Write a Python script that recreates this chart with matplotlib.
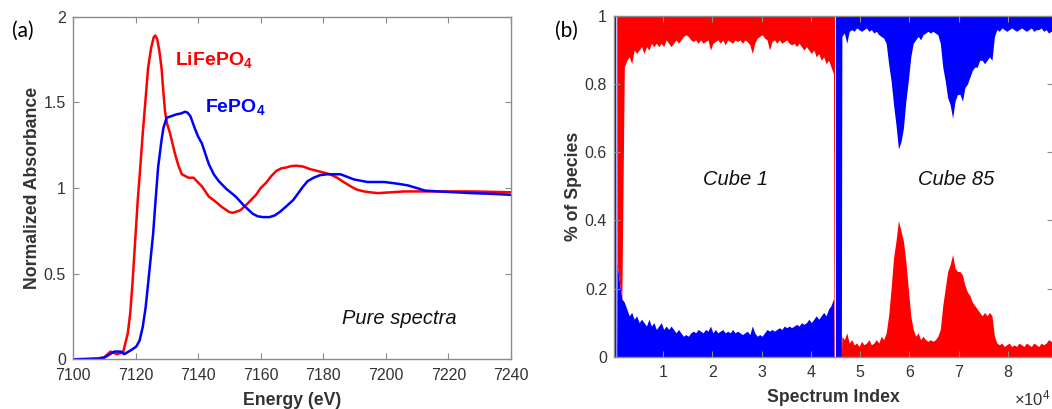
import numpy as np
import matplotlib
matplotlib.use('Agg')
import matplotlib.pyplot as plt

plt.rcParams['font.family'] = ['Liberation Sans', 'DejaVu Sans']
plt.rcParams['mathtext.fontset'] = 'custom'
plt.rcParams['mathtext.rm'] = 'Liberation Sans'
plt.rcParams['mathtext.it'] = 'Liberation Sans:italic'
plt.rcParams['mathtext.bf'] = 'Liberation Sans:bold'

# ---- panel (a): pure spectra ----
lifepo4_energy = [7100, 7105, 7108, 7110, 7112, 7114, 7116, 7117.5, 7118.3, 7119,
                  7120.7, 7121.5, 7122.3, 7123.2, 7124, 7125, 7125.8, 7126.3, 7126.9, 7127.6,
                  7128.3, 7128.8, 7129.4, 7130, 7131, 7132.6, 7133.7, 7134.8, 7136.9, 7138.5,
                  7141.2, 7143.4, 7145.6, 7147.5, 7149.9, 7150.9, 7152, 7153.5, 7155.3, 7156.9,
                  7158.5, 7160, 7161.7, 7163.4, 7165, 7166.6, 7168.2, 7169.8, 7171.5, 7173.6,
                  7175.8, 7178, 7180.1, 7182.2, 7184.4, 7186.5, 7188.7, 7190.8, 7193, 7195,
                  7197.4, 7206, 7216.8, 7227.6, 7240]
lifepo4_abs = [0.0, 0.002, 0.005, 0.012, 0.045, 0.03, 0.04, 0.15, 0.27, 0.44,
               0.93, 1.12, 1.32, 1.52, 1.70, 1.82, 1.88, 1.89, 1.87, 1.80,
               1.70, 1.58, 1.45, 1.38, 1.32, 1.20, 1.13, 1.08, 1.06, 1.06,
               1.01, 0.95, 0.92, 0.89, 0.86, 0.855, 0.86, 0.87, 0.90, 0.93,
               0.96, 1.00, 1.03, 1.07, 1.10, 1.115, 1.12, 1.128, 1.13, 1.125,
               1.11, 1.10, 1.09, 1.08, 1.06, 1.035, 1.01, 0.99, 0.98, 0.975,
               0.97, 0.98, 0.98, 0.98, 0.975]

fepo4_energy = [7100, 7105, 7108, 7110, 7113.2, 7115.3, 7116.4, 7118.6, 7120.2, 7121.3,
                7122.3, 7123.2, 7124, 7125.6, 7126.4, 7127.2, 7128.3, 7128.9, 7129.9, 7131.5,
                7133.1, 7134.5, 7135.8, 7136.6, 7137.5, 7138.3, 7139.1, 7140, 7141.2, 7142.3,
                7143.4, 7145, 7146.6, 7149, 7152, 7154.5, 7157.4, 7159, 7160.7, 7162.8,
                7164.5, 7166.1, 7168, 7170.4, 7172, 7173.6, 7175, 7176.9, 7179, 7181.2,
                7185.5, 7189.8, 7194.1, 7199.5, 7203.8, 7207.1, 7212.5, 7216.8, 7227.6, 7235.1,
                7240]
fepo4_abs = [0.0, 0.002, 0.004, 0.01, 0.045, 0.045, 0.03, 0.054, 0.074, 0.11,
             0.19, 0.30, 0.44, 0.73, 0.93, 1.12, 1.28, 1.35, 1.41, 1.42,
             1.43, 1.435, 1.445, 1.44, 1.42, 1.38, 1.34, 1.30, 1.26, 1.20,
             1.14, 1.08, 1.04, 0.995, 0.95, 0.90, 0.85, 0.835, 0.83, 0.83,
             0.84, 0.86, 0.89, 0.93, 0.97, 1.01, 1.04, 1.06, 1.075, 1.08,
             1.08, 1.05, 1.035, 1.035, 1.025, 1.015, 0.985, 0.98, 0.97, 0.965,
             0.96]

# ---- panel (b): species fractions per spectrum ----
# cube 1: blue filled from 0 up to fepo4, red filled from the lifepo4 edge up to 1
cube1_index = np.concatenate([[0, 350, 400, 550], np.arange(600, 44700, 500), [44700, 44800]])
cube1_fepo4 = [1.0, 1.0, 0.0, 0.0,
               0.28, 0.22, 0.17, 0.16, 0.14, 0.12, 0.13, 0.11, 0.12, 0.10,
               0.11, 0.10, 0.09, 0.11, 0.09, 0.10, 0.08, 0.09, 0.10, 0.08,
               0.09, 0.08, 0.09, 0.08, 0.07, 0.08, 0.07, 0.06, 0.065, 0.06,
               0.07, 0.075, 0.07, 0.08, 0.075, 0.07, 0.08, 0.075, 0.09, 0.07,
               0.08, 0.07, 0.075, 0.08, 0.07, 0.075, 0.07, 0.08, 0.07, 0.075,
               0.07, 0.065, 0.07, 0.075, 0.065, 0.09, 0.07, 0.06, 0.065, 0.06,
               0.07, 0.08, 0.075, 0.08, 0.075, 0.08, 0.085, 0.08, 0.09, 0.085,
               0.09, 0.085, 0.09, 0.095, 0.09, 0.10, 0.095, 0.10, 0.11, 0.10,
               0.11, 0.12, 0.11, 0.12, 0.13, 0.12, 0.14, 0.15, 0.17,
               0.0, 0.0]
cube1_lifepo4 = [1.0, 1.0, 1.0, 1.0,
                 0.28, 0.22, 0.17, 0.85, 0.87, 0.88, 0.86, 0.90, 0.89, 0.90,
                 0.91, 0.89, 0.91, 0.90, 0.92, 0.91, 0.92, 0.91, 0.92, 0.91,
                 0.93, 0.92, 0.91, 0.92, 0.93, 0.92, 0.93, 0.94, 0.945, 0.94,
                 0.93, 0.925, 0.93, 0.92, 0.93, 0.92, 0.925, 0.93, 0.90, 0.92,
                 0.925, 0.93, 0.92, 0.93, 0.915, 0.93, 0.925, 0.92, 0.93, 0.925,
                 0.93, 0.92, 0.93, 0.925, 0.915, 0.89, 0.92, 0.935, 0.94, 0.945,
                 0.935, 0.93, 0.90, 0.925, 0.93, 0.92, 0.93, 0.92, 0.925, 0.93,
                 0.92, 0.915, 0.92, 0.91, 0.92, 0.91, 0.90, 0.91, 0.90, 0.89,
                 0.90, 0.88, 0.89, 0.87, 0.88, 0.86, 0.87, 0.85, 0.83,
                 0.0, 0.0]

# cube 85: red filled from 0 up to lifepo4, blue filled from the fepo4 edge up to 1
cube85_index = np.concatenate([[45000, 46200], np.arange(46300, 89400, 500)])
cube85_lifepo4 = [0.0, 0.0,
                  0.06, 0.05, 0.07, 0.04, 0.05, 0.035, 0.04, 0.03, 0.045, 0.035,
                  0.04, 0.05, 0.035, 0.04, 0.05, 0.04, 0.06, 0.05, 0.07, 0.12,
                  0.20, 0.29, 0.34, 0.40, 0.37, 0.34, 0.28, 0.20, 0.12, 0.08,
                  0.06, 0.07, 0.05, 0.06, 0.05, 0.045, 0.05, 0.045, 0.05, 0.06,
                  0.08, 0.15, 0.20, 0.25, 0.27, 0.30, 0.26, 0.25, 0.25, 0.24,
                  0.21, 0.19, 0.18, 0.16, 0.15, 0.14, 0.13, 0.12, 0.13, 0.12,
                  0.13, 0.12, 0.06, 0.04, 0.035, 0.04, 0.03, 0.035, 0.04, 0.03,
                  0.035, 0.03, 0.04, 0.035, 0.03, 0.04, 0.035, 0.03, 0.04, 0.035,
                  0.03, 0.04, 0.035, 0.04, 0.05, 0.045, 0.05]
cube85_fepo4 = [0.0, 0.0,
                0.94, 0.95, 0.92, 0.955, 0.96, 0.955, 0.965, 0.96, 0.955, 0.96,
                0.965, 0.955, 0.96, 0.95, 0.955, 0.945, 0.94, 0.935, 0.92, 0.86,
                0.81, 0.74, 0.68, 0.61, 0.63, 0.67, 0.75, 0.81, 0.88, 0.92,
                0.93, 0.94, 0.93, 0.945, 0.95, 0.955, 0.95, 0.955, 0.95, 0.945,
                0.92, 0.85, 0.81, 0.76, 0.74, 0.70, 0.75, 0.77, 0.77, 0.75,
                0.79, 0.80, 0.82, 0.84, 0.85, 0.85, 0.87, 0.87, 0.86, 0.87,
                0.88, 0.87, 0.94, 0.96, 0.955, 0.965, 0.96, 0.955, 0.96, 0.965,
                0.96, 0.955, 0.96, 0.965, 0.96, 0.955, 0.96, 0.965, 0.955, 0.96,
                0.96, 0.965, 0.955, 0.96, 0.95, 0.955, 0.95]

RED = '#ff0000'
BLUE = '#0000ff'
SPINE = '#8c8c8c'
TXT = '#333333'

W, H = 1052, 409
fig = plt.figure(figsize=(W / 100, H / 100), dpi=100)


def px_axes(left, top, right, bottom):
    return fig.add_axes([left / W, 1 - bottom / H, (right - left) / W, (bottom - top) / H])


def style(ax):
    for s in ax.spines.values():
        s.set_color(SPINE)
        s.set_linewidth(1.0)
    ax.tick_params(direction='in', top=True, right=True, length=4, width=0.8,
                   color=SPINE, labelcolor=TXT, labelsize=11.5, pad=6)


def ptext(x, y, s, **kw):
    fig.text(x / W, 1 - y / H, s, **kw)


# panel (a)
ax1 = px_axes(73, 16.7, 511, 359.3)
ax1.plot(lifepo4_energy, lifepo4_abs, color=RED, lw=1.8)
ax1.plot(fepo4_energy, fepo4_abs, color=BLUE, lw=1.8)
ax1.set_xlim(7100, 7240)
ax1.set_ylim(0, 2)
ax1.set_xticks(np.arange(7100, 7241, 20))
ax1.set_yticks([0, 0.5, 1, 1.5, 2])
ax1.set_yticklabels(['0', '0.5', '1', '1.5', '2'])
style(ax1)
ax1.tick_params(axis='y', pad=5)
ax1.set_xlabel('Energy (eV)', fontsize=12.7, fontweight='bold', color=TXT, labelpad=6.5)
ax1.set_ylabel('Normalized Absorbance', fontsize=12.7, fontweight='bold', color=TXT, labelpad=2)
ptext(175, 65, r'LiFePO$_\mathbf{4}$', color=RED, fontsize=14, fontweight='bold')
ptext(205, 112, r'FePO$_\mathbf{4}$', color=BLUE, fontsize=14, fontweight='bold')
ptext(342, 324, 'Pure spectra', fontsize=14.5, style='italic', color='#111111')

# panel (b)
ax2 = px_axes(614, 16, 1053, 356.7)
ax2.fill_between(cube1_index, 0, cube1_fepo4, color=BLUE, lw=0)
ax2.fill_between(cube1_index, cube1_lifepo4, 1, color=RED, lw=0)
ax2.fill_between(cube85_index, 0, cube85_lifepo4, color=RED, lw=0)
ax2.fill_between(cube85_index, cube85_fepo4, 1, color=BLUE, lw=0)
ax2.set_xlim(0, 89200)
ax2.set_ylim(0, 1)
ax2.set_xticks(np.arange(1, 9) * 1e4)
ax2.set_xticklabels([str(i) for i in range(1, 9)])
ax2.set_yticks([0, 0.2, 0.4, 0.6, 0.8, 1])
ax2.set_yticklabels(['0', '0.2', '0.4', '0.6', '0.8', '1'])
style(ax2)
ax2.tick_params(axis='y', pad=5)
ax2.set_xlabel('Spectrum Index', fontsize=12.7, fontweight='bold', color=TXT, labelpad=6.5)
ax2.set_ylabel('% of Species', fontsize=12.7, fontweight='bold', color=TXT, labelpad=2)
ptext(703, 185, 'Cube 1', fontsize=14.5, style='italic', color='#111111')
ptext(918, 185, 'Cube 85', fontsize=14.5, style='italic', color='#111111')
ptext(1014, 405, '×10$^{4}$', fontsize=12, color=TXT)

ptext(12, 31, '(a)', fontsize=15, family=['Lato', 'DejaVu Sans'], va='center')
ptext(555, 31, '(b)', fontsize=15, family=['Lato', 'DejaVu Sans'], va='center')

fig.savefig('out.png', dpi=100)
